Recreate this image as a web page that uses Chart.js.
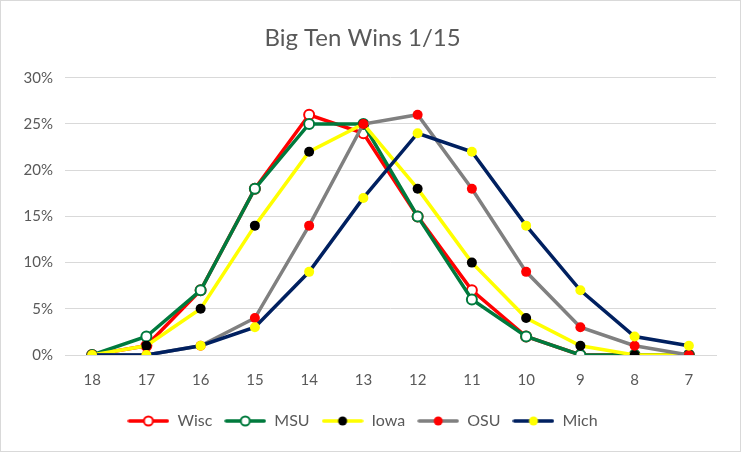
<!DOCTYPE html>
<html>
<head>
<meta charset="utf-8">
<script src="https://cdn.jsdelivr.net/npm/chart.js@4"></script>
<style>
  body { margin: 0; background: #fff; }
  #wrap { position: relative; width: 739px; height: 450px; border: 1px solid #d9d9d9; }
</style>
</head>
<body>
<div id="wrap"><canvas id="chart"></canvas></div>
<script>
// categories (wins) and series values in percent
var wins = ["18", "17", "16", "15", "14", "13", "12", "11", "10", "9", "8", "7"];
var wisc = [0, 1, 7, 18, 26, 24, 15, 7, 2, 0, 0, 0];
var msu  = [0, 2, 7, 18, 25, 25, 15, 6, 2, 0, 0, 0];
var iowa = [0, 1, 5, 14, 22, 25, 18, 10, 4, 1, 0, 0];
var osu  = [0, 0, 1, 4, 14, 25, 26, 18, 9, 3, 1, 0];
var mich = [0, 0, 1, 3, 9, 17, 24, 22, 14, 7, 2, 1];

var textColor = "#595959";
var font = "Lato, 'Open Sans', sans-serif";

// little line + marker picture for the legend
function legendIcon(lineColor, fill, border) {
  var c = document.createElement("canvas");
  c.width = 42; c.height = 14;
  var g = c.getContext("2d");
  g.strokeStyle = lineColor;
  g.lineWidth = 3.5;
  g.lineCap = "round";
  g.beginPath(); g.moveTo(2, 7); g.lineTo(40, 7); g.stroke();
  g.beginPath(); g.arc(21, 7, 4.5, 0, Math.PI * 2);
  g.fillStyle = fill; g.fill();
  if (border) { g.lineWidth = 2; g.strokeStyle = border; g.stroke(); }
  return c;
}

function series(label, data, lineColor, fill, border, order) {
  return {
    label: label,
    data: data,
    borderColor: lineColor,
    borderWidth: 3.5,
    pointRadius: 5,
    pointHoverRadius: 5,
    pointBackgroundColor: fill,
    pointBorderColor: border || fill,
    pointBorderWidth: border ? 2 : 0,
    tension: 0,
    order: order,
    icon: legendIcon(lineColor, fill, border)
  };
}

var ctx = document.getElementById("chart").getContext("2d");
new Chart(ctx, {
  type: "line",
  data: {
    labels: wins,
    datasets: [
      series("Wisc", wisc, "#ff0000", "#ffffff", "#ff0000", 5),
      series("MSU", msu, "#007a3d", "#ffffff", "#007a3d", 4),
      series("Iowa", iowa, "#ffff00", "#000000", null, 3),
      series("OSU", osu, "#808080", "#ff0000", null, 2),
      series("Mich", mich, "#002060", "#ffff00", null, 1)
    ]
  },
  options: {
    responsive: true,
    maintainAspectRatio: false,
    animation: false,
    layout: { padding: { left: 8, right: 24, top: 6, bottom: 12 } },
    plugins: {
      title: {
        display: true,
        text: "Big Ten Wins 1/15",
        color: textColor,
        font: { family: font, size: 24, weight: "normal" },
        padding: { top: 17, bottom: 25 }
      },
      legend: {
        position: "bottom",
        labels: {
          color: textColor,
          font: { family: font, size: 16 },
          usePointStyle: true,
          pointStyleWidth: 42,
          padding: 12,
          sort: function (a, b) { return a.datasetIndex - b.datasetIndex; },
          generateLabels: function (chart) {
            return chart.data.datasets.map(function (ds, i) {
              return {
                text: ds.label,
                pointStyle: ds.icon,
                fontColor: textColor,
                lineWidth: 0,
                datasetIndex: i
              };
            });
          }
        }
      },
      tooltip: { enabled: false }
    },
    scales: {
      x: {
        offset: true,
        afterFit: function (axis) { axis.height -= 4; },
        grid: { display: false, drawTicks: false },
        border: { color: "#d9d9d9" },
        ticks: { color: textColor, font: { family: font, size: 15 }, padding: 16 }
      },
      y: {
        min: 0,
        max: 30,
        afterFit: function (axis) { axis.width = 56; },
        grid: { color: "#d9d9d9", drawTicks: false },
        border: { display: false },
        ticks: {
          stepSize: 5,
          color: textColor,
          font: { family: font, size: 15 },
          padding: 12,
          callback: function (v) { return v + "%"; }
        }
      }
    }
  }
});
</script>
</body>
</html>
